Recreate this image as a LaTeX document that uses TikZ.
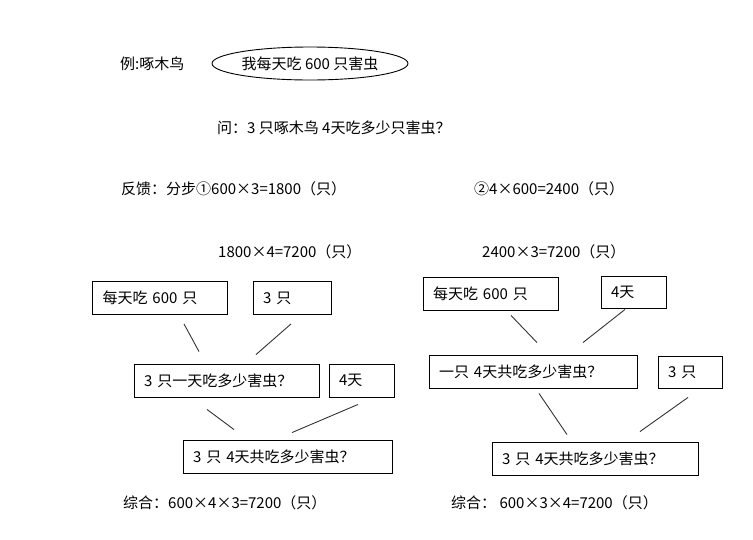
\documentclass[tikz,border=0pt]{standalone}
\usepackage{fontspec}
\setmainfont{Noto Sans CJK SC}
\usetikzlibrary{shapes.geometric}
\begin{document}
\begin{tikzpicture}[x=1pt, y=-1pt, every node/.style={font=\fontsize{15}{18}\selectfont},
  qbox/.style={draw, line width=0.9pt, inner xsep=10pt, inner ysep=0pt, minimum height=33pt, align=left},
  txt/.style={anchor=west, inner sep=0pt},
  link/.style={line width=0.9pt, black!80}]
\useasboundingbox (0,0) rectangle (753,539);
% header
\node[txt] (ex) at (120,64) {例:啄木鸟};
\node[draw, ellipse, line width=0.9pt, minimum width=196pt, minimum height=33pt, inner sep=0pt] (fact) at (310,63.5) {我每天吃 600 只害虫};
\node[txt] (ask) at (217,128) {问：3 只啄木鸟 4天吃多少只害虫？};
\node[txt] (fb1) at (121,189) {反馈：分步①600×3=1800（只）};
\node[txt] (fb2) at (474,189) {②4×600=2400（只）};
\node[txt] (st1) at (218,252) {1800×4=7200（只）};
\node[txt] (st2) at (482,252) {2400×3=7200（只）};
% left tree
\node[qbox, text width=115pt] (la) at (160,298) {每天吃 600 只};
\node[qbox, text width=58pt] (lb) at (292,298) {3 只};
\node[qbox, text width=165pt] (lc) at (226.5,380.5) {3 只一天吃多少害虫？};
\node[qbox, text width=45pt] (ld) at (361.5,380.5) {4天};
\node[qbox, text width=189pt] (le) at (287.5,456.5) {3 只 4天共吃多少害虫？};
\draw[link] ([xshift=24pt,yshift=-9pt]la.south) -- ([xshift=-27.5pt,yshift=12pt]lc.north);
\draw[link] ([xshift=-1pt,yshift=-9pt]lb.south) -- ([xshift=29.5pt,yshift=9pt]lc.north);
\draw[link] ([xshift=-19.5pt,yshift=-12pt]lc.south) -- ([xshift=-53.5pt,yshift=10pt]le.north);
\draw[link] ([xshift=-3.5pt,yshift=-7pt]ld.south) -- ([xshift=4.5pt,yshift=7pt]le.north);
% right tree
\node[qbox, text width=115pt] (ra) at (490.5,293.5) {每天吃 600 只};
\node[qbox, text width=45pt, minimum height=32pt] (rb) at (633.5,292) {4天};
\node[qbox, text width=188pt] (rc) at (533,371.5) {一只 4天共吃多少害虫？};
\node[qbox, text width=44pt, minimum height=32pt] (rd) at (690,372) {3 只};
\node[qbox, text width=186pt] (re) at (595,458.5) {3 只 4天共吃多少害虫？};
\draw[link] ([xshift=20.5pt,yshift=-5pt]ra.south) -- ([xshift=4pt,yshift=12pt]rc.north);
\draw[link] ([xshift=-8.5pt,yshift=-1pt]rb.south) -- ([xshift=50pt,yshift=12pt]rc.north);
\draw[link] ([xshift=6pt,yshift=-5pt]rc.south) -- ([xshift=-28pt,yshift=7pt]re.north);
\draw[link] ([xshift=-2pt,yshift=-9pt]rd.south) -- ([xshift=45pt,yshift=10pt]re.north);
% totals
\node[txt] (sum1) at (123,503) {综合：600×4×3=7200（只）};
\node[txt] (sum2) at (451,503) {综合： 600×3×4=7200（只）};
\end{tikzpicture}
\end{document}
